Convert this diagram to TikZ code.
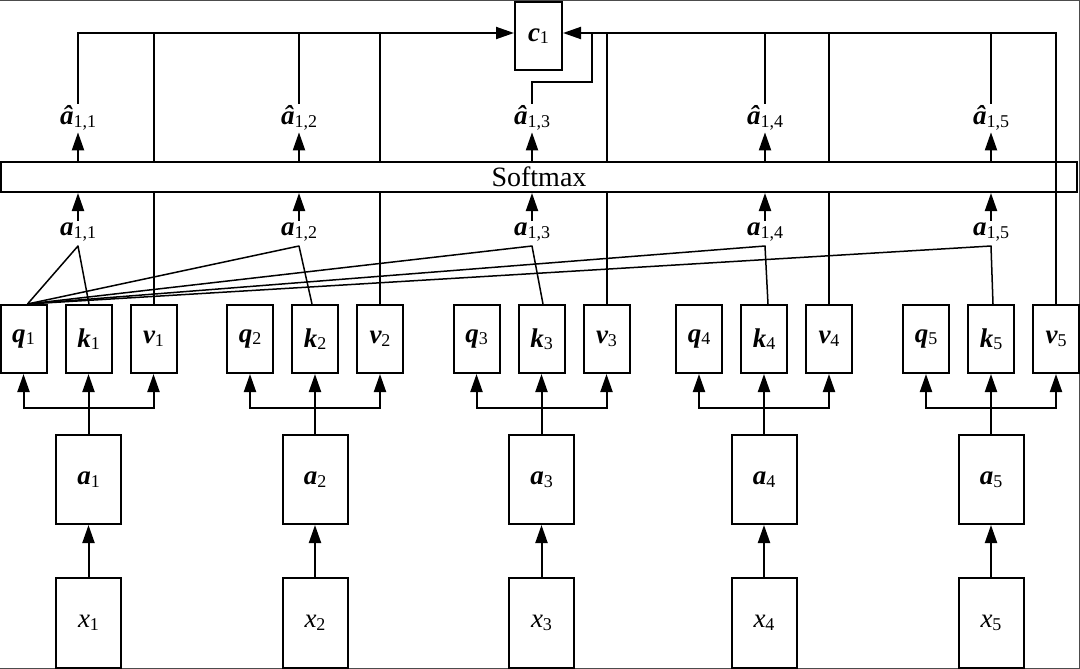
\documentclass[tikz,border=0pt]{standalone}
\usepackage{fontspec}
\setmainfont{Liberation Serif}
\usetikzlibrary{arrows.meta}
\newcommand{\bvar}[2]{{\bfseries\itshape #1}\raisebox{-2.5pt}{\fontsize{18}{18}\selectfont #2}}
\newcommand{\ivar}[2]{{\itshape #1}\raisebox{-2.5pt}{\fontsize{18}{18}\selectfont #2}}
\begin{document}
\begin{tikzpicture}[x=1pt,y=-1pt,
  box/.style={draw, line width=2pt, inner sep=0pt, fill=white, font=\fontsize{27}{27}\selectfont},
  qkv/.style={box, minimum width=46pt, minimum height=68pt},
  bigbox/.style={box, minimum width=65pt, minimum height=89pt},
  lab/.style={inner sep=2pt, font=\fontsize{27}{27}\selectfont},
  ln/.style={line width=2pt},
  tip/.tip={Triangle[length=18pt,width=12pt]},
  arr/.style={line width=2pt, -tip},
  att/.style={line width=1.5pt, line join=round}]
\useasboundingbox (0,0) rectangle (1080,669);
\draw[gray!60!black, line width=1.2pt] (0,0.6) -- (1079.4,0.6) -- (1079.4,668.4) -- (0,668.4);
\coordinate (bus) at (0,33);
\node[box, minimum width=47pt, minimum height=68pt] (c1) at (538.5,36) {\bvar{c}{1}};
\foreach \i/\kx/\hx in {1/88.5/78, 2/315/299, 3/541.5/532, 4/764/765, 5/991/991}{
  \node[box, minimum width=65pt, minimum height=90pt] (x\i) at (\kx,623) {\ivar{x}{\i}};
  \node[bigbox] (a\i) at (\kx,479.5) {\bvar{a}{\i}};
  \node[qkv] (q\i) at (\kx-65,339) {\bvar{q}{\i}};
  \node[qkv] (k\i) at (\kx,339) {\bvar{k}{\i}};
  \node[qkv] (v\i) at (\kx+65,339) {\bvar{v}{\i}};
  \coordinate (br\i) at (\kx,408);
  \node[lab] (h\i) at (\hx,118) {\bvar{â}{1,\i}};
  \node[lab] (s\i) at (\hx,232) {\bvar{a}{1,\i}};
  \coordinate (ap\i) at (\hx,246);
  \draw[arr] (x\i) -- (a\i);
  \draw[arr] (a\i) -- (k\i);
  \draw[ln, tip-tip] (q\i.south) |- (br\i) -| (v\i.south);
  \draw[ln] (v\i.north) -- (v\i.north |- bus);
}
\node[box, minimum width=1076pt, minimum height=30pt, font=\fontsize{28}{28}\selectfont] (sm) at (539,177) {Softmax};
\foreach \i in {1,...,5}{
  \draw[arr] (s\i) -- (s\i |- sm.south);
  \draw[arr] (sm.north -| h\i) -- (h\i);
}
\foreach \i in {2,4,5}{
  \draw[ln] (h\i) -- (h\i |- bus);
}
\draw[arr] (h1.north) |- (c1.west |- bus);
\draw[arr] (v5.north) |- (c1.east |- bus);
\coordinate (j3) at (592,82);
\draw[ln] (h3) |- (j3) -- (j3 |- bus);
\coordinate (qt) at ([xshift=4pt]q1.north);
\foreach \i/\dx in {1/0.5,2/-3,3/1.5,4/4,5/2}{
  \draw[att] (qt) -- (ap\i) -- ([xshift=\dx pt]k\i.north);
}
\end{tikzpicture}
\end{document}
